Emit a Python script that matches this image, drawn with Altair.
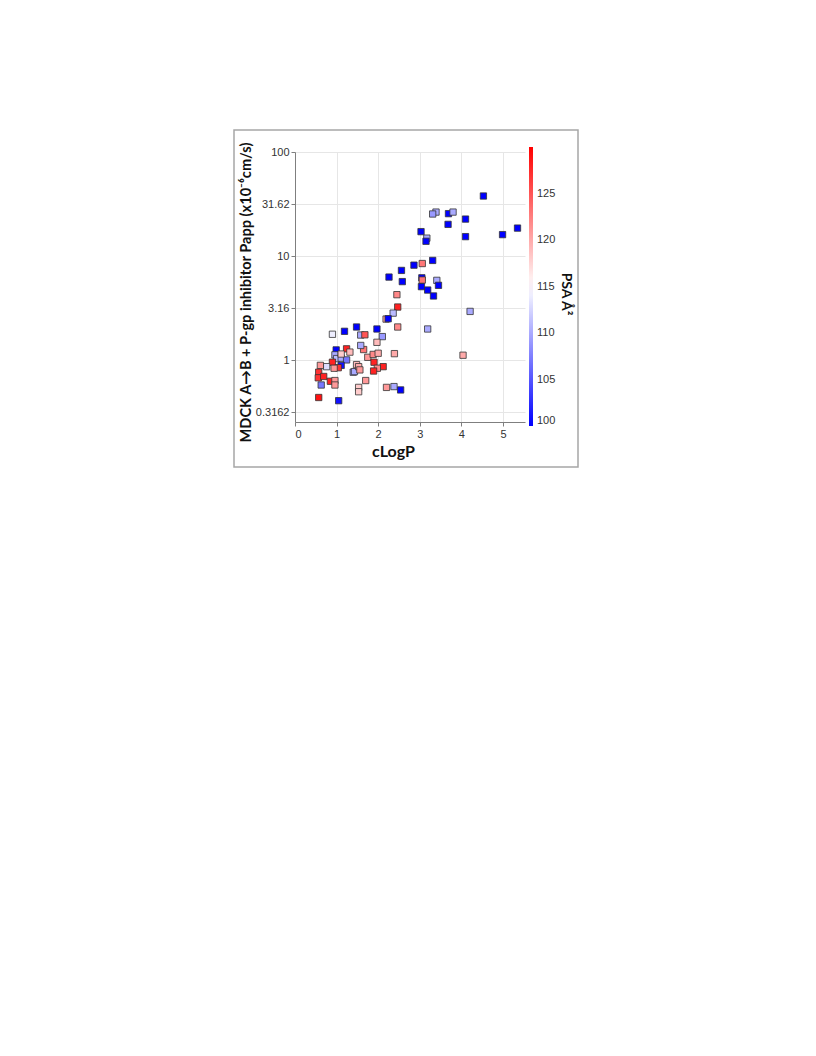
import altair as alt
import pandas as pd

# cLogP values
clogp = [4.53, 5.35, 4.99, 4.10, 4.10, 3.69, 3.68, 3.80, 3.39, 3.31,
         3.03, 3.17, 3.15, 2.86, 3.06, 3.31, 2.26, 2.56, 2.58, 3.05,
         3.06, 3.41, 3.45, 3.04, 3.19, 3.33, 4.21, 3.19, 4.04, 2.45,
         2.47, 2.36, 2.19, 2.24, 2.47, 1.97, 1.48, 1.19, 0.90, 1.58,
         1.68, 2.10, 1.97, 0.99, 1.24, 1.32, 1.65, 1.58, 1.75, 1.88,
         2.00, 2.39, 1.90, 0.96, 1.00, 1.11, 1.24, 1.11, 0.90, 2.12,
         1.98, 1.89, 1.11, 1.04, 0.94, 0.76, 0.61, 0.57, 0.56, 0.69,
         0.63, 0.85, 0.96, 0.96, 1.40, 1.43, 1.48, 1.53, 1.56, 1.70,
         1.53, 1.53, 2.20, 2.38, 2.54, 0.57, 1.05]

# MDCK A->B + P-gp inhibitor Papp (x10^-6 cm/s)
papp = [37.8, 18.6, 16.1, 22.7, 15.4, 25.6, 20.2, 26.5, 26.5, 25.4,
        17.2, 14.9, 13.9, 8.2, 8.5, 9.1, 6.3, 7.3, 5.7, 6.2,
        5.9, 5.86, 5.25, 5.1, 4.73, 4.15, 2.95, 2.0, 1.12, 4.27,
        3.25, 2.84, 2.49, 2.51, 2.09, 2.0, 2.09, 1.90, 1.78, 1.75,
        1.76, 1.69, 1.49, 1.26, 1.29, 1.2, 1.27, 1.39, 1.07, 1.14,
        1.17, 1.16, 0.96, 1.13, 1.04, 1.05, 1.01, 1.15, 0.96, 0.87,
        0.84, 0.79, 0.895, 0.85, 0.84, 0.87, 0.895, 0.77, 0.68, 0.70,
        0.58, 0.63, 0.64, 0.58, 0.77, 0.78, 0.91, 0.87, 0.81, 0.64,
        0.55, 0.50, 0.55, 0.56, 0.52, 0.44, 0.41]

# PSA (A^2)
psa = [100, 100, 100, 100, 100, 100, 100, 110, 110, 109,
       100, 110, 100, 100, 123, 100, 100, 100, 100, 100,
       123, 110, 100, 100, 100, 100, 110, 110, 120, 122,
       128, 111, 120, 100, 122, 100, 100, 100, 114, 110,
       125, 109, 119, 100, 128, 119, 123, 110, 121, 122,
       120, 120, 128, 110, 111, 110, 107, 118, 128, 128,
       122, 128, 101, 127, 121, 113, 121, 127, 127, 128,
       107, 128, 121, 121, 109, 110, 119, 120, 121, 121,
       118, 118, 121, 110, 100, 129, 101]

y_ticks = [0.3162, 1, 3.16, 10, 31.62, 100]
x_ticks = [0, 1, 2, 3, 4, 5]
psa_ticks = [100, 105, 110, 115, 120, 125]
legend_title = ["PSA \u00c5\u00b2"]

df = pd.DataFrame({"cLogP": clogp, "Papp": papp, "PSA": psa})

TITLE_FONT = "Lato"
LABEL_FONT = "Liberation Sans"

points = alt.Chart(df).mark_square(
    size=40, stroke="#333333", strokeWidth=0.8, opacity=1
).encode(
    x=alt.X("cLogP:Q",
            scale=alt.Scale(domain=[0, 5.53], nice=False, zero=False),
            axis=alt.Axis(values=x_ticks, format="d", title="cLogP",
                          titleX=98, titleY=34, titleAlign="center",
                          titleBaseline="alphabetic", titleFontSize=16)),
    y=alt.Y("Papp:Q",
            scale=alt.Scale(type="log", domain=[0.256, 100], nice=False),
            axis=alt.Axis(values=y_ticks, labelExpr="toString(datum.value)",
                          title="MDCK A\u2192B + P-gp inhibitor Papp (x10\u207b\u2076cm/s)",
                          titleX=-49, titleY=140, titleAlign="center",
                          titleBaseline="middle", titleAngle=-90,
                          titleFontSize=14.6)),
    color=alt.Color("PSA:Q",
                    scale=alt.Scale(domain=[100, 115, 130],
                                    range=["#0000ff", "#ffffff", "#ff0000"],
                                    interpolate="rgb"),
                    legend=alt.Legend(
                        title=None, values=psa_ticks,
                        orient="none", legendX=234, legendY=-5,
                        direction="vertical",
                        gradientLength=279, gradientThickness=4,
                        gradientStrokeWidth=0,
                        labelFontSize=11, labelFont=LABEL_FONT,
                        labelColor="#333333", labelOffset=4,
                        padding=0)),
)

title_df = pd.DataFrame({"t": legend_title})
ltitle = alt.Chart(title_df).mark_text(
    angle=90, font=TITLE_FONT, fontSize=14, fontWeight="bold",
    color="#111111", align="center", baseline="middle"
).encode(
    text="t:N", x=alt.value(271), y=alt.value(142)
)

frame = alt.Chart(alt.Data(values=[{"a": 1}])).mark_rect(
    filled=False, stroke="#a6a6a6", strokeWidth=1.5, clip=False
).encode(
    x=alt.value(-61), x2=alt.value(283),
    y=alt.value(-22), y2=alt.value(315),
)

chart = alt.layer(points, ltitle, frame).properties(
    width=230, height=270,
    autosize=alt.AutoSizeParams(type="none"),
    padding={"left": 287, "top": 144, "right": 70, "bottom": 60},
).configure_view(
    stroke=None
).configure_axis(
    grid=True, gridColor="#e6e6e6", gridWidth=1,
    domainColor="#7f7f7f", tickColor="#7f7f7f", tickSize=4,
    labelFont=LABEL_FONT, labelFontSize=11, labelColor="#333333",
    titleFont=TITLE_FONT, titleFontSize=15, titleFontWeight="bold",
    titleColor="#111111",
)

chart.save("out.html", embed_options={"renderer": "svg", "actions": False})
